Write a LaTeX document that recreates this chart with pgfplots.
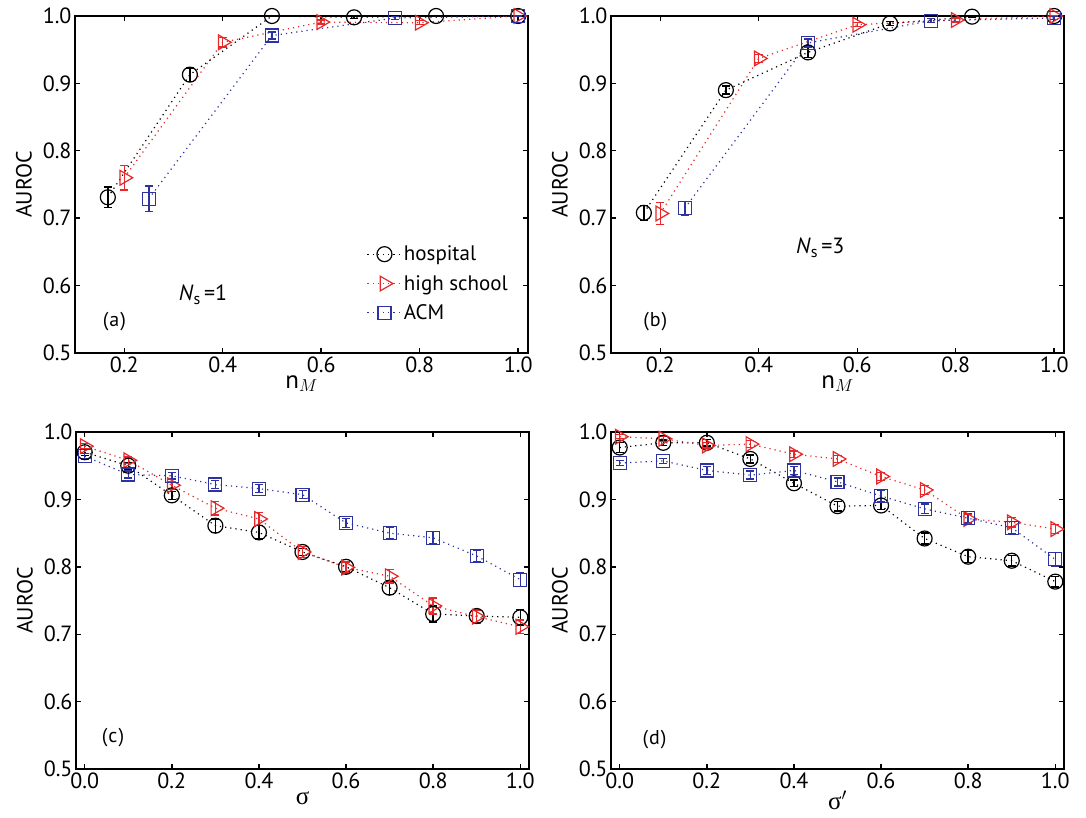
\documentclass[border=0pt]{standalone}
\usepackage{fontspec}
\setmainfont{PT Sans}
\newfontfamily\grk{Liberation Serif}
\usepackage{pgfplots}
\pgfplotsset{compat=1.18}
\definecolor{myred}{RGB}{232,40,40}
\definecolor{myblue}{RGB}{45,50,160}

\tikzset{lab/.style={font=\fontsize{20}{24}\selectfont}}
\pgfplotsset{
  panel/.style={
    scale only axis, width=453pt, height=337pt,
    ymin=0.5, ymax=1.0, ytick={0.5,0.6,0.7,0.8,0.9,1.0},
    ylabel={AUROC}, clip=false,
    axis line style={line width=1.4pt},
    every tick/.style={line width=1.4pt, black}, major tick length=5pt,
    /pgf/number format/assume math mode=true,
    ticklabel style={font=\fontsize{22}{26}\selectfont},
    ylabel style={font=\fontsize{22}{26}\selectfont, yshift=4pt},
    xlabel style={font=\fontsize{25}{28}\selectfont, yshift=4pt},
    xticklabel style={/pgf/number format/.cd,fixed,fixed zerofill,precision=1},
    yticklabel style={/pgf/number format/.cd,fixed,fixed zerofill,precision=1},
  },
  ser/.style={line width=1.2pt, dash pattern=on 1.2pt off 4pt,
    error bars/y dir=both, error bars/y explicit,
    error bars/error bar style={solid, line width=1.4pt},
    error bars/error mark options={rotate=90, mark size=4pt, line width=1.4pt, solid}},
  hosp/.style={ser, black, mark=o, mark size=7.5pt, mark options={solid, line width=1.2pt}},
  hs/.style={ser, myred, mark=triangle, mark size=8.5pt, mark options={solid, line width=1.2pt, rotate=-90}},
  acm/.style={ser, myblue, mark=square, mark size=6.5pt, mark options={solid, line width=1.2pt}},
}

\begin{document}
\begin{tikzpicture}
\useasboundingbox (0,0) rectangle (1086pt,817pt);

% (a)
\begin{axis}[panel, at={(75pt,464pt)}, anchor=south west,
  xmin=0.1, xmax=1.02, xtick={0.2,0.4,0.6,0.8,1.0},
  xlabel={$\mathrm{n}_{M}$},
  legend style={draw=none, fill=none, at={(0.967,0.33)}, anchor=north east,
    font=\fontsize{21}{26}\selectfont, row sep=9pt},
  legend cell align=left,
  legend image code/.code={\draw[mark repeat=2,mark phase=2,#1] plot coordinates {(0pt,0pt) (17pt,0pt) (34pt,0pt)};},
  legend image post style={line width=0.9pt}]
\addplot+[hosp] table[x index=0, y index=1, y error index=2] {
0.1667 0.731 0.015
0.3333 0.913 0.010
0.5 1.0 0.0
0.6667 0.998 0.002
0.8333 1.0 0.0
1.0 1.0 0.0
};
\addplot+[hs] table[x index=0, y index=1, y error index=2] {
0.2 0.760 0.018
0.4 0.961 0.007
0.6 0.991 0.003
0.8 0.990 0.003
1.0 1.0 0.0
};
\addplot+[acm] table[x index=0, y index=1, y error index=2] {
0.25 0.729 0.019
0.5 0.971 0.005
0.75 0.997 0.002
1.0 1.0 0.0
};
\legend{hospital, high school, ACM}
\node[lab] at (axis cs:0.18,0.546) {(\kern1pt a\kern1pt)};
\node[font=\fontsize{22}{26}\selectfont] at (axis cs:0.36,0.586) {\textit{N}\raisebox{-0.35ex}{\fontsize{16}{18}\selectfont s}\,=1};
\end{axis}

% (b)
\begin{axis}[panel, at={(611pt,464pt)}, anchor=south west,
  xmin=0.1, xmax=1.02, xtick={0.2,0.4,0.6,0.8,1.0},
  xlabel={$\mathrm{n}_{M}$}]
\addplot+[hosp] table[x index=0, y index=1, y error index=2] {
0.1667 0.708 0.011
0.3333 0.890 0.006
0.5 0.946 0.008
0.6667 0.989 0.003
0.8333 0.999 0.001
1.0 1.0 0.0
};
\addplot+[hs] table[x index=0, y index=1, y error index=2] {
0.2 0.707 0.016
0.4 0.937 0.006
0.6 0.987 0.003
0.8 0.994 0.003
1.0 1.0 0.0
};
\addplot+[acm] table[x index=0, y index=1, y error index=2] {
0.25 0.715 0.010
0.5 0.960 0.006
0.75 0.993 0.003
1.0 0.997 0.002
};
\node[lab] at (axis cs:0.19,0.546) {(\kern1pt b\kern1pt)};
\node[font=\fontsize{22}{26}\selectfont] at (axis cs:0.525,0.656) {\textit{N}\raisebox{-0.35ex}{\fontsize{16}{18}\selectfont s}\,=3};
\end{axis}

% (c)
\begin{axis}[panel, at={(76pt,48pt)}, anchor=south west,
  xmin=-0.02, xmax=1.02, xtick={0,0.2,0.4,0.6,0.8,1.0},
  xlabel={\grk σ}]
\addplot+[hosp] table[x index=0, y index=1, y error index=2] {
0.0 0.970 0.005
0.1 0.950 0.005
0.2 0.906 0.006
0.3 0.861 0.010
0.4 0.851 0.010
0.5 0.822 0.005
0.6 0.800 0.008
0.7 0.769 0.010
0.8 0.730 0.012
0.9 0.727 0.010
1.0 0.725 0.012
};
\addplot+[hs] table[x index=0, y index=1, y error index=2] {
0.0 0.979 0.004
0.1 0.958 0.005
0.2 0.921 0.006
0.3 0.887 0.010
0.4 0.871 0.010
0.5 0.822 0.008
0.6 0.799 0.008
0.7 0.786 0.010
0.8 0.742 0.012
0.9 0.726 0.010
1.0 0.711 0.010
};
\addplot+[acm] table[x index=0, y index=1, y error index=2] {
0.0 0.964 0.004
0.1 0.937 0.005
0.2 0.935 0.005
0.3 0.922 0.006
0.4 0.916 0.006
0.5 0.907 0.006
0.6 0.865 0.007
0.7 0.850 0.009
0.8 0.843 0.009
0.9 0.816 0.009
1.0 0.781 0.010
};
\node[lab] at (axis cs:0.065,0.546) {(\kern1pt c\kern1pt)};
\end{axis}

% (d)
\begin{axis}[panel, at={(611pt,48pt)}, anchor=south west,
  xmin=-0.02, xmax=1.02, xtick={0,0.2,0.4,0.6,0.8,1.0},
  xlabel={\grk σ$'$}]
\addplot+[hosp] table[x index=0, y index=1, y error index=2] {
0.0 0.977 0.007
0.1 0.984 0.004
0.2 0.984 0.005
0.3 0.960 0.006
0.4 0.924 0.005
0.5 0.890 0.007
0.6 0.891 0.006
0.7 0.842 0.008
0.8 0.815 0.009
0.9 0.809 0.008
1.0 0.778 0.008
};
\addplot+[hs] table[x index=0, y index=1, y error index=2] {
0.0 0.993 0.003
0.1 0.990 0.004
0.2 0.980 0.004
0.3 0.982 0.005
0.4 0.967 0.005
0.5 0.960 0.005
0.6 0.934 0.006
0.7 0.914 0.007
0.8 0.871 0.007
0.9 0.866 0.007
1.0 0.856 0.007
};
\addplot+[acm] table[x index=0, y index=1, y error index=2] {
0.0 0.954 0.004
0.1 0.957 0.004
0.2 0.943 0.006
0.3 0.936 0.006
0.4 0.943 0.006
0.5 0.926 0.006
0.6 0.905 0.008
0.7 0.886 0.007
0.8 0.872 0.007
0.9 0.858 0.009
1.0 0.811 0.010
};
\node[lab] at (axis cs:0.08,0.543) {(\kern1pt d\kern1pt)};
\end{axis}
\end{tikzpicture}
\end{document}
